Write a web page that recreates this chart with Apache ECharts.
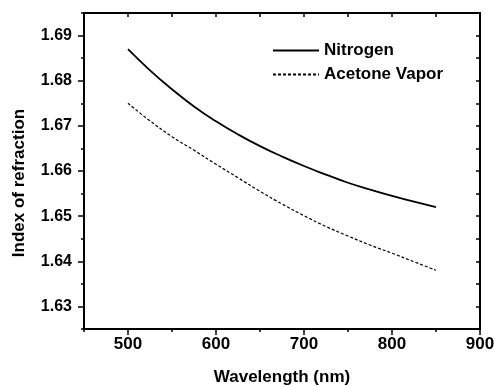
<!DOCTYPE html>
<html>
<head>
<meta charset="utf-8">
<script src="https://cdn.jsdelivr.net/npm/echarts@6/dist/echarts.min.js"></script>
<style>
  html, body { margin: 0; padding: 0; background: #fff; }
  #chart { width: 494px; height: 386px; }
</style>
</head>
<body>
<div id="chart"></div>
<script>
// data
const wavelengths = [500, 525, 550, 575, 600, 625, 650, 675, 700, 725, 750, 775, 800, 825, 850];
const nitrogen = [1.687, 1.6823, 1.6781, 1.6743, 1.671, 1.6681, 1.6655, 1.6632, 1.6611, 1.6592, 1.6574, 1.6559, 1.6545, 1.6532, 1.652];
const acetone = [1.675, 1.6711, 1.6676, 1.6646, 1.6615, 1.6585, 1.6555, 1.6527, 1.6501, 1.6477, 1.6456, 1.6436, 1.6418, 1.6399, 1.638];
const xTicks = [500, 600, 700, 800, 900];
const yTicks = [1.63, 1.64, 1.65, 1.66, 1.67, 1.68, 1.69];

const font = "'Liberation Sans', Arial, sans-serif";
const chart = echarts.init(document.getElementById("chart"));

const lineBlack = { show: true, lineStyle: { color: "#000", width: 2 } };
const xBase = { type: "value", min: 450, max: 900, interval: 50, gridIndex: 0, splitLine: { show: false } };
const yBase = { type: "value", min: 1.625, max: 1.695, interval: 0.005, gridIndex: 0, splitLine: { show: false } };

chart.setOption({
  animation: false,
  backgroundColor: "#fff",
  grid: { left: 84, right: 14, top: 13, bottom: 57, outerBoundsMode: "none", containLabel: false },
  legend: {
    orient: "vertical",
    left: 267,
    top: 37,
    itemWidth: 46,
    itemHeight: 12,
    itemGap: 7,
    itemStyle: { opacity: 0 },
    textStyle: { fontFamily: font, fontWeight: "bold", fontSize: 17, color: "#000" },
    data: ["Nitrogen", "Acetone Vapor"],
  },
  xAxis: [
    {
      ...xBase,
      position: "bottom",
      name: "Wavelength (nm)",
      nameLocation: "middle",
      nameGap: 40,
      nameTextStyle: { fontFamily: font, fontWeight: "bold", fontSize: 17, color: "#000" },
      axisLine: lineBlack,
      axisTick: { show: true, inside: false, length: 3, lineStyle: { color: "#000", width: 1.5 } },
      axisLabel: {
        customValues: xTicks,
        margin: 7,
        fontFamily: font, fontWeight: "bold", fontSize: 17, color: "#000",
      },
    },
    {
      // longer major ticks
      ...xBase,
      position: "bottom",
      axisLine: { show: false },
      axisTick: { show: true, inside: false, length: 6, customValues: xTicks, lineStyle: { color: "#000", width: 1.5 } },
      axisLabel: { show: false },
    },
    {
      ...xBase,
      position: "top",
      axisLine: lineBlack,
      axisTick: { show: true, inside: true, length: 4, lineStyle: { color: "#000", width: 1.5 } },
      axisLabel: { show: false },
    },
  ],
  yAxis: [
    {
      ...yBase,
      position: "left",
      name: "Index of refraction",
      nameLocation: "middle",
      nameGap: 56,
      nameTextStyle: {
        fontFamily: font, fontWeight: "bold", fontSize: 17, color: "#000",
        padding: [0, 24, 0, 0],
      },
      axisLine: lineBlack,
      axisTick: { show: true, inside: false, length: 3, lineStyle: { color: "#000", width: 1.5 } },
      axisLabel: {
        customValues: yTicks,
        margin: 12,
        formatter: (v) => v.toFixed(2),
        fontFamily: font, fontWeight: "bold", fontSize: 16, color: "#000",
      },
    },
    {
      ...yBase,
      position: "left",
      axisLine: { show: false },
      axisTick: { show: true, inside: false, length: 6, customValues: yTicks, lineStyle: { color: "#000", width: 1.5 } },
      axisLabel: { show: false },
    },
    {
      ...yBase,
      position: "right",
      axisLine: lineBlack,
      axisTick: { show: true, inside: true, length: 4, lineStyle: { color: "#000", width: 1.5 } },
      axisLabel: { show: false },
    },
  ],
  series: [
    {
      name: "Nitrogen",
      type: "line",
      xAxisIndex: 0,
      yAxisIndex: 0,
      smooth: true,
      symbol: "none",
      lineStyle: { color: "#000", width: 1.8 },
      itemStyle: { color: "#000" },
      data: wavelengths.map((w, i) => [w, nitrogen[i]]),
    },
    {
      name: "Acetone Vapor",
      type: "line",
      xAxisIndex: 0,
      yAxisIndex: 0,
      smooth: true,
      symbol: "none",
      lineStyle: { color: "#000", width: 1.2, type: [3, 2] },
      itemStyle: { color: "#000" },
      data: wavelengths.map((w, i) => [w, acetone[i]]),
    },
  ],
});
</script>
</body>
</html>
